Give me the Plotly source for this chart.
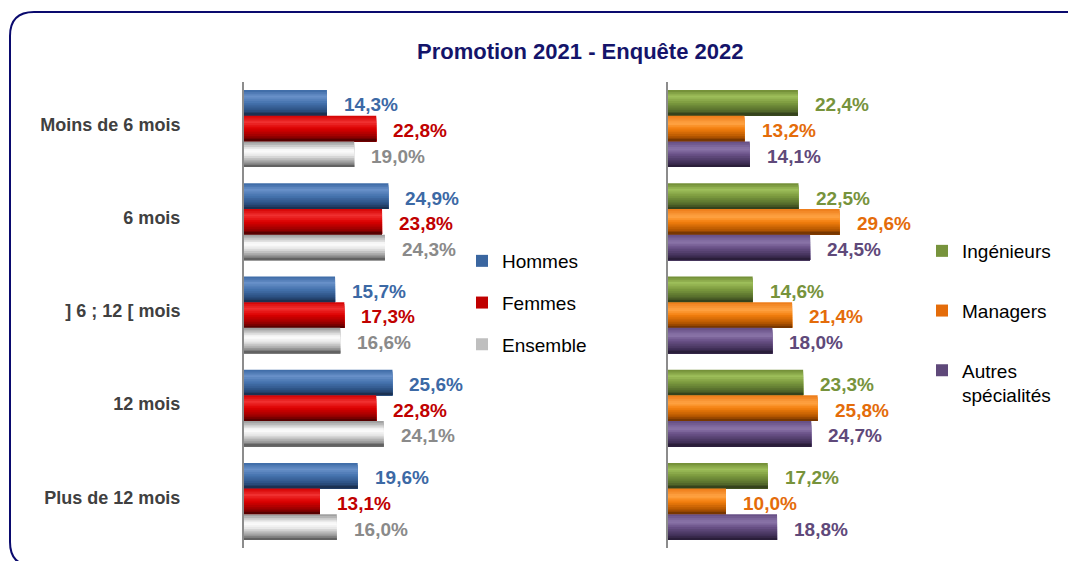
import plotly.graph_objects as go

# ---------------- data ----------------
categories = ["Moins de 6 mois", "6 mois", "] 6 ; 12 [ mois", "12 mois", "Plus de 12 mois"]

left_series = ["Hommes", "Femmes", "Ensemble"]
hommes = [14.3, 24.9, 15.7, 25.6, 19.6]
femmes = [22.8, 23.8, 17.3, 22.8, 13.1]
ensemble = [19.0, 24.3, 16.6, 24.1, 16.0]

right_series = ["Ingénieurs", "Managers", "Autres<br>spécialités"]
ingenieurs = [22.4, 22.5, 14.6, 23.3, 17.2]
managers = [13.2, 29.6, 21.4, 25.8, 10.0]
autres = [14.1, 24.5, 18.0, 24.7, 18.8]

title_text = "Promotion 2021 - Enquête 2022"

# ---------------- styling ----------------
W, H = 1076, 561
OFF = 8  # browser default body margin
FONT = "Liberation Sans, Arial, sans-serif"

def px_x(p):
    return (p - OFF) / W

def px_y(p):
    return 1 - (p - OFF) / H

def hex2rgb(h):
    h = h.lstrip("#")
    return tuple(int(h[i:i + 2], 16) for i in (0, 2, 4))

def interp(stops, t):
    for (t0, c0), (t1, c1) in zip(stops[:-1], stops[1:]):
        if t0 <= t <= t1:
            f = 0 if t1 == t0 else (t - t0) / (t1 - t0)
            a, b = hex2rgb(c0), hex2rgb(c1)
            r = [round(a[i] + (b[i] - a[i]) * f) for i in range(3)]
            return "rgb(%d,%d,%d)" % tuple(r)
    return stops[-1][1]

gradients = {
    "Hommes": [(0, "#3B68A4"), (0.25, "#6890C8"), (0.5, "#4573AE"), (0.8, "#2B4F80"), (1, "#172B48")],
    "Femmes": [(0, "#D20000"), (0.25, "#F03030"), (0.5, "#DC0000"), (0.8, "#9A0000"), (1, "#4A0000")],
    "Ensemble": [(0, "#959595"), (0.35, "#FFFFFF"), (0.55, "#E6E6E6"), (0.8, "#A0A0A0"), (1, "#555555")],
    "Ingénieurs": [(0, "#6E8A34"), (0.25, "#9DBE5A"), (0.5, "#7C9A3E"), (0.8, "#566C2C"), (1, "#2E3A18")],
    "Managers": [(0, "#EC7A16"), (0.3, "#FFA445"), (0.5, "#F4800E"), (0.8, "#B85800"), (1, "#6A3000")],
    "Autres<br>spécialités": [(0, "#634C82"), (0.3, "#8C76AA"), (0.5, "#6A5288"), (0.8, "#45335C"), (1, "#241A32")],
}
legend_colors = {
    "Hommes": "#3A66A0", "Femmes": "#C00000", "Ensemble": "#BFBFBF",
    "Ingénieurs": "#77933C", "Managers": "#E46C0A", "Autres<br>spécialités": "#5F497A",
}
label_colors = {
    "Hommes": "#3C69A5", "Femmes": "#C00000", "Ensemble": "#8A8A8A",
    "Ingénieurs": "#77933C", "Managers": "#E46C0A", "Autres<br>spécialités": "#5F497A",
}

positions = list(range(len(categories)))
bw = 0.2753
start = -1.5 * bw
NSTRIPE = 14
label_nudge = -0.045  # category labels sit slightly above group centre

fig = go.Figure()
annotations = []

panels = [
    ("x", "y", "legend", left_series, [hommes, femmes, ensemble]),
    ("x2", "y2", "legend2", right_series, [ingenieurs, managers, autres]),
]

for xa, ya, leg, names, values in panels:
    for s, (name, vals) in enumerate(zip(names, values)):
        off = start + s * bw
        for k in range(NSTRIPE):
            t = (k + 0.5) / NSTRIPE
            fig.add_trace(go.Bar(
                orientation="h", x=vals, y=positions, base=0,
                offset=off + k * bw / NSTRIPE, width=bw - k * bw / NSTRIPE,
                marker=dict(color=interp(gradients[name], t), line=dict(width=0)),
                showlegend=False, hoverinfo="skip", xaxis=xa, yaxis=ya,
            ))
        # legend entry
        fig.add_trace(go.Bar(
            orientation="h", x=[None], y=[None], name=name,
            marker=dict(color=legend_colors[name], line=dict(width=0)),
            legend=leg, legendgroup=name, showlegend=True, xaxis=xa, yaxis=ya,
        ))
        for p, v in zip(positions, vals):
            annotations.append(dict(
                x=v, y=p + off + bw / 2, xref=xa, yref=ya,
                text="<b>%s</b>" % ("%.1f%%" % v).replace(".", ","), showarrow=False,
                xanchor="left", yanchor="middle", xshift=15, yshift=-2,
                font=dict(family=FONT, size=19, color=label_colors[name]),
            ))

annotations.append(dict(
    x=px_x(580), y=px_y(52), xref="paper", yref="paper", text="<b>%s</b>" % title_text,
    showarrow=False, xanchor="center", yanchor="middle",
    font=dict(family=FONT, size=22, color="#14146A"),
))

ydom = [px_y(548), px_y(82)]
axis_common = dict(range=[0, 40], visible=False, fixedrange=True)

# rounded border
x0, y0, x1, y1, r = 10, 12, 1095, 566, 24
def P(x, y):
    return "%.5f,%.5f" % (px_x(x), px_y(y))
path = ("M " + P(x0 + r, y0) + " L " + P(x1 - r, y0) + " Q " + P(x1, y0) + " " + P(x1, y0 + r) +
        " L " + P(x1, y1 - r) + " Q " + P(x1, y1) + " " + P(x1 - r, y1) +
        " L " + P(x0 + r, y1) + " Q " + P(x0, y1) + " " + P(x0, y1 - r) +
        " L " + P(x0, y0 + r) + " Q " + P(x0, y0) + " " + P(x0 + r, y0) + " Z")

fig.update_layout(
    width=W, height=H,
    margin=dict(l=0, r=0, t=0, b=0, autoexpand=False),
    paper_bgcolor="white", plot_bgcolor="rgba(0,0,0,0)",
    barmode="overlay", showlegend=True,
    xaxis=dict(domain=[px_x(244), px_x(476)], anchor="y", **axis_common),
    xaxis2=dict(domain=[px_x(668), px_x(900)], anchor="y2", **axis_common),
    yaxis=dict(domain=ydom, anchor="x", range=[4.5, -0.5],
               tickvals=[p + label_nudge for p in positions],
               ticktext=["<b>%s</b>" % c for c in categories], showgrid=False, zeroline=False,
               showline=True, linecolor="#8C8C8C", linewidth=2, ticks="",
               ticklabelstandoff=58, automargin=False, fixedrange=True,
               tickfont=dict(family=FONT, size=18, color="#404040")),
    yaxis2=dict(domain=ydom, anchor="x2", range=[4.5, -0.5], tickvals=positions,
                showticklabels=False, showgrid=False, zeroline=False,
                showline=True, linecolor="#8C8C8C", linewidth=2, ticks="",
                automargin=False, fixedrange=True),
    legend=dict(x=px_x(462), y=px_y(242), xanchor="left", yanchor="top",
                font=dict(family=FONT, size=19, color="#000000"), tracegroupgap=14,
                bgcolor="rgba(0,0,0,0)", borderwidth=0, itemclick=False),
    legend2=dict(x=px_x(922), y=px_y(232), xanchor="left", yanchor="top", valign="top",
                 font=dict(family=FONT, size=19, color="#000000"), tracegroupgap=32,
                 bgcolor="rgba(0,0,0,0)", borderwidth=0, itemclick=False),
    annotations=annotations,
    shapes=[dict(type="path", path=path, xref="paper", yref="paper",
                 line=dict(color="#0A0A6E", width=2), fillcolor="rgba(0,0,0,0)", layer="below")],
)

fig.write_html("out.html", config={"displayModeBar": False})
